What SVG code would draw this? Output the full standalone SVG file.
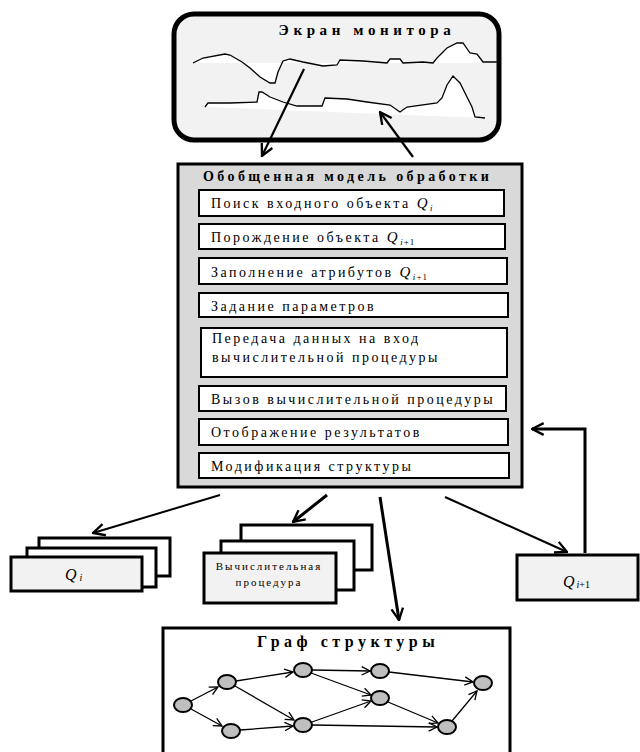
<svg xmlns="http://www.w3.org/2000/svg" width="640" height="752" viewBox="0 0 640 752">
<style>
text{font-family:"Liberation Serif","DejaVu Serif","Times New Roman",serif;fill:#000}
.h{font-weight:bold}
.box{fill:#fff;stroke:#000;stroke-width:2}
.stk{stroke:#000;stroke-width:3}
.wave{fill:none;stroke:#000;stroke-width:1.3}
.wfill{fill:#fff;stroke:none}
.c{stroke:#000;fill:none}
.nd{fill:#bfbfbf;stroke:#000;stroke-width:2}
.it{font-size:14px;letter-spacing:2.5px}
</style>
<defs>
<marker id="ah" viewBox="0 0 12 12" refX="11" refY="6" markerWidth="14" markerHeight="14" markerUnits="userSpaceOnUse" orient="auto">
<path d="M1,1 L11,6 L1,11" fill="none" stroke="#000" stroke-width="2"/>
</marker>
<marker id="ahs" viewBox="0 0 12 12" refX="11" refY="6" markerWidth="10" markerHeight="10" markerUnits="userSpaceOnUse" orient="auto">
<path d="M1,1 L11,6 L1,11" fill="none" stroke="#000" stroke-width="1.6"/>
</marker>
</defs>
<rect width="640" height="752" fill="#fff"/>

<g id="monitor">
<rect x="174" y="14" width="325" height="126" rx="20" ry="20" fill="#f2f2f2" stroke="#000" stroke-width="5"/>
<text class="h" x="367" y="35" font-size="15" letter-spacing="4.6" text-anchor="middle">Экран монитора</text>
<polygon class="wfill" points="193,63 203,58 225,54 230,55 242,62 250,68 260,77 270,83 275,83 278,72 283,61 290,59 303,62 323,66 337,65 340,60 363,61 387,63 390,59 400,59 403,63 423,62 433,63 437,58 447,48 457,43 463,43 470,53 477,54 483,62 497,62 497,63 193,63"/>
<polyline class="wave" points="193,63 203,58 225,54 230,55 242,62 250,68 260,77 270,83 275,83 278,72 283,61 290,59 303,62 323,66 337,65 340,60 363,61 387,63 390,59 400,59 403,63 423,62 433,63 437,58 447,48 457,43 463,43 470,53 477,54 483,62 497,62"/>
<polygon class="wfill" points="205,107 208,103 230,103 257,102 259,92 262,92 270,97 283,102 297,106 322,106 325,98 347,99 367,102 390,105 400,112 407,107 437,103 442,98 447,85 453,76 460,83 467,97 472,107 475,117 485,118 205,107"/>
<polyline class="wave" points="205,107 208,103 230,103 257,102 259,92 262,92 270,97 283,102 297,106 322,106 325,98 347,99 367,102 390,105 400,112 407,107 437,103 442,98 447,85 453,76 460,83 467,97 472,107 475,117 485,118"/>
</g>

<g id="model">
<rect x="178" y="164" width="344" height="323" fill="#d9d9d9" stroke="#000" stroke-width="3"/>
<text class="h" x="203" y="181" font-size="14" letter-spacing="3.4">Обобщенная модель обработки</text>
<rect class="box" x="199" y="190" width="305" height="26"/>
<text class="it" x="211" y="208">Поиск входного объекта <tspan font-style="italic" font-size="15">Q</tspan><tspan font-style="italic" font-size="9" dy="3">i</tspan></text>
<rect class="box" x="199" y="224" width="306" height="25"/>
<text class="it" x="211" y="242">Порождение объекта <tspan font-style="italic" font-size="15">Q</tspan><tspan font-size="9" dy="3" letter-spacing="1"><tspan font-style="italic">i</tspan>+1</tspan></text>
<rect class="box" x="199" y="258" width="308" height="26"/>
<text class="it" x="211" y="277">Заполнение атрибутов <tspan font-style="italic" font-size="15">Q</tspan><tspan font-size="9" dy="3" letter-spacing="1"><tspan font-style="italic">i</tspan>+1</tspan></text>
<rect class="box" x="199" y="293" width="309" height="24"/>
<text class="it" x="211" y="311">Задание параметров</text>
<rect class="box" x="201" y="328" width="306" height="49"/>
<text class="it" x="212" y="343">Передача данных на вход</text>
<text class="it" x="212" y="362">вычислительной процедуры</text>
<rect class="box" x="199" y="386" width="307" height="25"/>
<text class="it" x="211" y="404">Вызов вычислительной  процедуры</text>
<rect class="box" x="199" y="419" width="309" height="26"/>
<text class="it" x="211" y="437">Отображение результатов</text>
<rect class="box" x="199" y="453" width="310" height="25"/>
<text class="it" x="211" y="471">Модификация структуры</text>
</g>

<g id="qi">
<rect x="39" y="538" width="131" height="38" fill="#fff" class="stk"/>
<rect x="27" y="548" width="129" height="39" fill="#fff" class="stk"/>
<rect x="11" y="557" width="131" height="34" fill="#f2f2f2" class="stk"/>
<text x="65" y="580" font-size="16" font-style="italic">Q<tspan font-size="10" dx="3" dy="1">i</tspan></text>
</g>

<g id="proc">
<rect x="241" y="525" width="131" height="45" fill="#fff" class="stk"/>
<rect x="221" y="541" width="133" height="49" fill="#fff" class="stk"/>
<rect x="204" y="553" width="132" height="50" fill="#f2f2f2" class="stk"/>
<text x="269" y="570" font-size="11" letter-spacing="2" text-anchor="middle">Вычислительная</text>
<text x="269" y="586" font-size="11" letter-spacing="2" text-anchor="middle">процедура</text>
</g>

<g id="qi1">
<rect x="517" y="555" width="121" height="45" fill="#f2f2f2" class="stk"/>
<text x="563" y="587" font-size="16" font-style="italic">Q<tspan font-size="10" dx="2" dy="1">i</tspan><tspan font-size="10" font-style="normal">+1</tspan></text>
</g>

<g id="graph">
<rect x="163" y="628" width="347" height="140" fill="#fff" stroke="#000" stroke-width="3"/>
<text class="h" x="257" y="647" font-size="16" letter-spacing="4.5">Граф структуры</text>
<g class="c" stroke-width="1.3" marker-end="url(#ahs)">
<line x1="191" y1="701" x2="218" y2="687"/>
<line x1="191" y1="709" x2="222" y2="726"/>
<line x1="236" y1="681" x2="293" y2="672"/>
<line x1="235" y1="686" x2="294" y2="720"/>
<line x1="240" y1="730" x2="293" y2="726"/>
<line x1="312" y1="670" x2="370" y2="671"/>
<line x1="311" y1="673" x2="371" y2="695"/>
<line x1="312" y1="722" x2="371" y2="701"/>
<line x1="312" y1="725" x2="437" y2="727"/>
<line x1="389" y1="672" x2="473" y2="682"/>
<line x1="388" y1="702" x2="438" y2="723"/>
<line x1="452" y1="721" x2="477" y2="691"/>
</g>
<ellipse class="nd" cx="183" cy="705" rx="9" ry="7"/>
<ellipse class="nd" cx="227" cy="682" rx="9" ry="7"/>
<ellipse class="nd" cx="231" cy="731" rx="9" ry="7"/>
<ellipse class="nd" cx="303" cy="670" rx="9" ry="7"/>
<ellipse class="nd" cx="303" cy="725" rx="9" ry="7"/>
<ellipse class="nd" cx="380" cy="671" rx="9" ry="7"/>
<ellipse class="nd" cx="380" cy="698" rx="9" ry="7"/>
<ellipse class="nd" cx="447" cy="727" rx="9" ry="7"/>
<ellipse class="nd" cx="483" cy="683" rx="9" ry="7"/>
</g>

<g id="connectors">
<line class="c" stroke-width="2.2" x1="304" y1="69" x2="262" y2="156" marker-end="url(#ah)"/>
<line class="c" stroke-width="2.2" x1="413" y1="157" x2="380" y2="112" marker-end="url(#ah)"/>
<line class="c" stroke-width="2" x1="220" y1="495" x2="93" y2="533" marker-end="url(#ah)"/>
<line class="c" stroke-width="3" x1="327" y1="495" x2="293" y2="522" marker-end="url(#ah)"/>
<line class="c" stroke-width="3" x1="380" y1="497" x2="399" y2="620" marker-end="url(#ah)"/>
<line class="c" stroke-width="2" x1="445" y1="497" x2="567" y2="552" marker-end="url(#ah)"/>
<polyline class="c" stroke-width="3" points="585,553 585,429 532,429" marker-end="url(#ah)"/>
</g>
</svg>
